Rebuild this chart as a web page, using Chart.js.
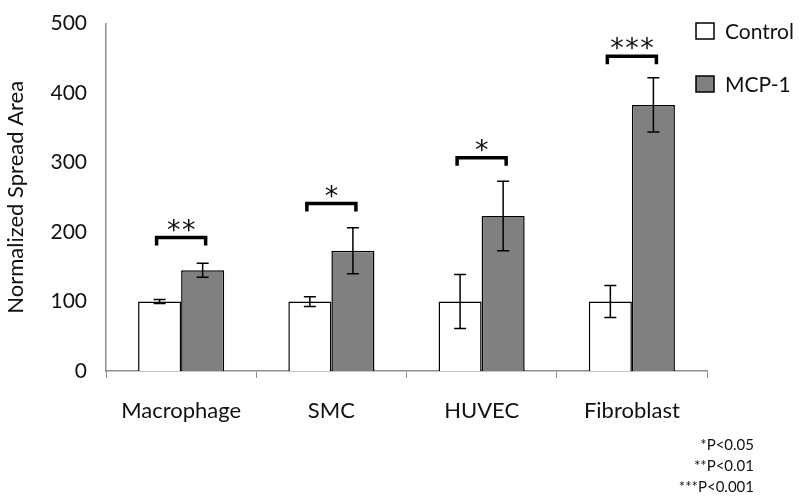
<!DOCTYPE html>
<html>
<head>
<meta charset="utf-8">
<script src="https://cdn.jsdelivr.net/npm/chart.js@4"></script>
<style>
  html, body { margin: 0; padding: 0; background: #fff; }
  #wrap { width: 800px; height: 499px; }
</style>
</head>
<body>
<div id="wrap"><canvas id="grafico" width="800" height="499"></canvas></div>
<script>
const categorias = ["Macrophage", "SMC", "HUVEC", "Fibroblast"];
const controle = [100, 100, 100, 100];
const mcp1 = [145, 173, 223, 383];
const erroControle = [3, 7, 39, 23];
const erroMcp1 = [10, 33, 50, 39];
const nivelChave = [192, 241, 307, 453];
const estrelas = ["**", "*", "*", "***"];
const yTicks = [0, 100, 200, 300, 400, 500];
const notas = ["*P<0.05", "**P<0.01", "***P<0.001"];

const fonte = "Lato, 'Open Sans', sans-serif";
const cinzaEixo = "#8e8e8e";

// error bars, significance brackets, legend and p-value notes
const extras = {
    id: "extras",
    afterDatasetsDraw(chart) {
        const ctx = chart.ctx;
        const y = chart.scales.y;
        const erros = [erroControle, erroMcp1];
        const valores = [controle, mcp1];
        ctx.save();
        ctx.strokeStyle = "#000";
        ctx.lineWidth = 1.5;
        for (let d = 0; d < 2; d++) {
            const meta = chart.getDatasetMeta(d);
            meta.data.forEach((bar, i) => {
                const hi = y.getPixelForValue(valores[d][i] + erros[d][i]);
                const lo = y.getPixelForValue(valores[d][i] - erros[d][i]);
                ctx.beginPath();
                ctx.moveTo(bar.x, hi); ctx.lineTo(bar.x, lo);
                ctx.moveTo(bar.x - 6, hi); ctx.lineTo(bar.x + 6, hi);
                ctx.moveTo(bar.x - 6, lo); ctx.lineTo(bar.x + 6, lo);
                ctx.stroke();
            });
        }
        // brackets
        const m0 = chart.getDatasetMeta(0), m1 = chart.getDatasetMeta(1);
        ctx.lineWidth = 3.5;
        ctx.lineJoin = "miter";
        ctx.fillStyle = "#111";
        ctx.font = "27px 'DejaVu Sans', sans-serif";
        ctx.textAlign = "center";
        ctx.textBaseline = "alphabetic";
        categorias.forEach((c, i) => {
            const x1 = m0.data[i].x - 3, x2 = m1.data[i].x + 3;
            const yy = y.getPixelForValue(nivelChave[i]);
            ctx.beginPath();
            ctx.moveTo(x1, yy + 8); ctx.lineTo(x1, yy); ctx.lineTo(x2, yy); ctx.lineTo(x2, yy + 8);
            ctx.stroke();
            const n = estrelas[i].length;
            const meio = (x1 + x2) / 2;
            for (let k = 0; k < n; k++) {
                ctx.fillText("*", meio + (k - (n - 1) / 2) * 15, yy + 1);
            }
        });
        // legend
        const itens = [["Control", "#ffffff"], ["MCP-1", "#808080"]];
        ctx.lineWidth = 1.5;
        ctx.font = "21px " + fonte;
        ctx.textAlign = "left";
        ctx.textBaseline = "middle";
        itens.forEach((it, k) => {
            const ly = 23 + k * 53;
            ctx.fillStyle = it[1];
            ctx.fillRect(696, ly, 18, 16);
            ctx.strokeRect(696, ly, 18, 16);
            ctx.fillStyle = "#111";
            ctx.fillText(it[0], 725, ly + 9);
        });
        // notes
        ctx.font = "15px " + fonte;
        ctx.textAlign = "right";
        notas.forEach((t, k) => {
            ctx.fillText(t, 754, 445 + k * 21);
        });
        ctx.restore();
    }
};

new Chart(document.getElementById("grafico"), {
    type: "bar",
    data: {
        labels: categorias,
        datasets: [{
            label: "Control",
            data: controle,
            backgroundColor: "#ffffff",
            borderColor: "#000000",
            borderWidth: 1.5
        }, {
            label: "MCP-1",
            data: mcp1,
            backgroundColor: "#808080",
            borderColor: "#000000",
            borderWidth: 1.5
        }]
    },
    options: {
        responsive: false,
        animation: false,
        categoryPercentage: 0.573,
        barPercentage: 1.0,
        layout: { padding: { top: 16, right: 93, left: 0, bottom: 0 } },
        plugins: {
            legend: { display: false },
            tooltip: { enabled: false }
        },
        scales: {
            x: {
                grid: { drawOnChartArea: false, color: cinzaEixo, tickLength: 7, offset: true },
                border: { color: cinzaEixo, width: 1.5 },
                ticks: { color: "#111", font: { family: fonte, size: 22 }, padding: 20, maxRotation: 0 },
                afterFit(s) { s.height = 128; }
            },
            y: {
                min: 0,
                max: 500,
                afterBuildTicks(s) { s.ticks = yTicks.map(v => ({ value: v })); },
                grid: { display: false },
                border: { color: cinzaEixo, width: 1.5 },
                ticks: { color: "#111", font: { family: fonte, size: 21 }, padding: 11 },
                title: {
                    display: true,
                    text: "Normalized Spread Area",
                    color: "#111",
                    font: { family: fonte, size: 22 },
                    padding: { top: 3, bottom: 0 }
                },
                afterFit(s) { s.width = 106; }
            }
        }
    },
    plugins: [extras]
});
</script>
</body>
</html>
